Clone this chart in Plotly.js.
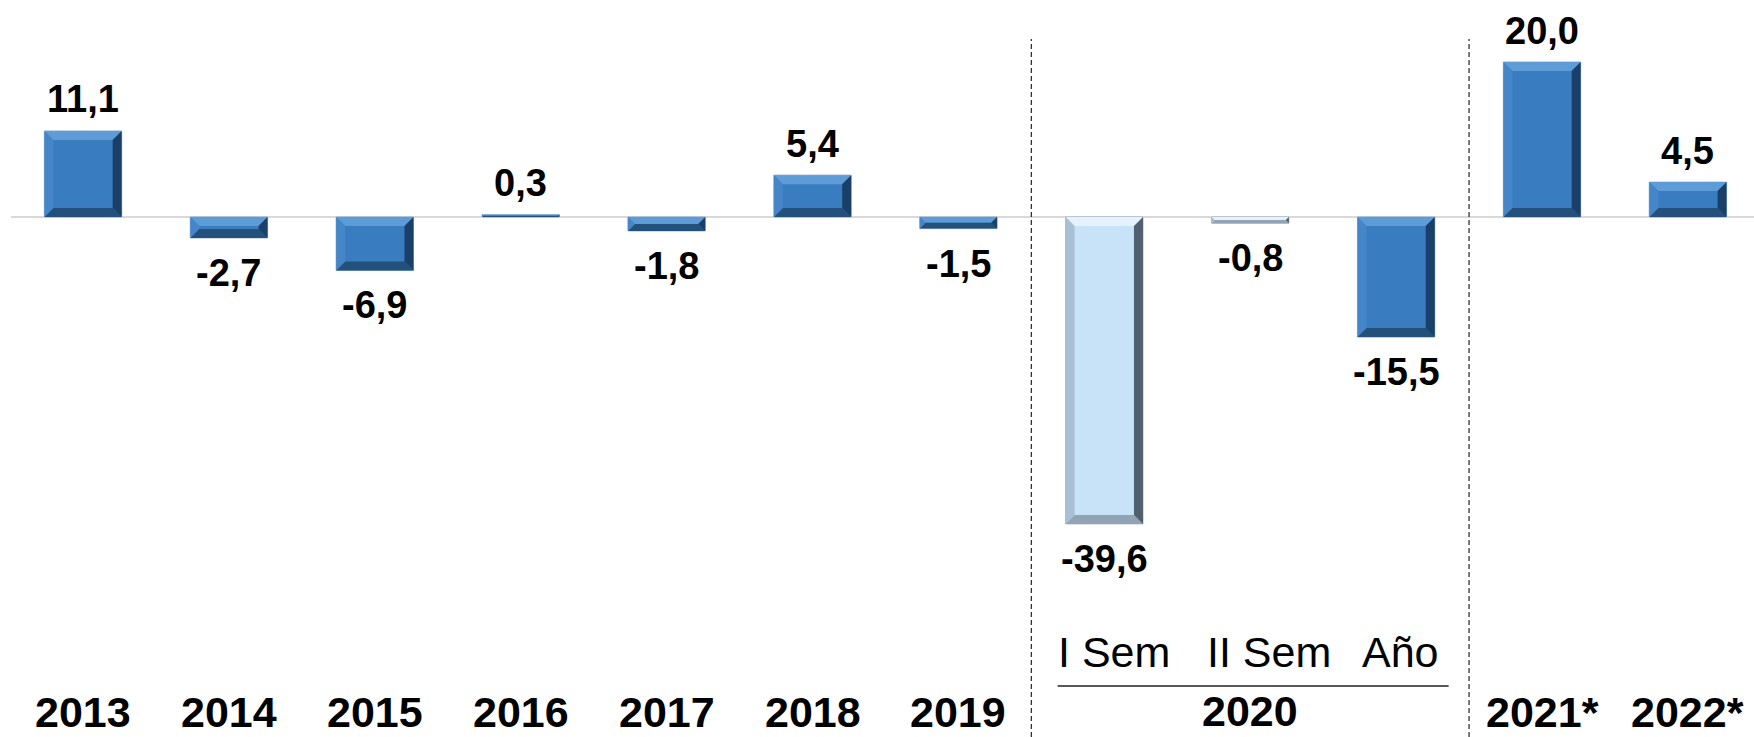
<!DOCTYPE html>
<html>
<head>
<meta charset="utf-8">
<script src="https://cdn.plot.ly/plotly-3.0.1.min.js"></script>
<style>html,body{margin:0;padding:0;background:#fff;}#chart{width:1754px;height:737px;}</style>
</head>
<body>
<div id="chart"></div>
<script>
// ---- data ----
var categories = ['2013','2014','2015','2016','2017','2018','2019','I Sem','II Sem','Año','2021*','2022*'];
var annualValues = [11.1, -2.7, -6.9, 0.3, -1.8, 5.4, -1.5, null, null, -15.5, 20.0, 4.5];
var semesterValues = [null, null, null, null, null, null, null, -39.6, -0.8, null, null, null];
var boldLabels = ['2013','2014','2015','2016','2017','2018','2019', '', '', '', '2021*','2022*'];
var subLabels = ['', '', '', '', '', '', '', 'I Sem', 'II Sem', 'Año', '', ''];
var groupLabel = '2020';

var xs = categories.map(function(c, i){ return i; });
var FONT = 'Liberation Sans, Arial, Helvetica, sans-serif';
var BW = 0.53;
var subShift = {7: 10, 8: 19, 9: 4};

function fmt(v){ return v.toFixed(1).replace('.', ','); }

var traces = [
  {type:'bar', x: xs, y: annualValues, width: BW,
   marker:{color:'#3a7cc0', line:{color:'#8fb1d3', width:1}}, hoverinfo:'skip'},
  {type:'bar', x: xs, y: semesterValues, width: BW,
   marker:{color:'#c8e2f8', line:{color:'#a3b3c3', width:1}}, hoverinfo:'skip'}
];

var pxPerX = 145.9, pxPerY = 7.75;
var shapes = [];
// zero line
shapes.push({type:'line', xref:'paper', yref:'y', x0: 11/1754, x1: 1, y0: 0, y1: 0,
  line:{color:'#d9d9d9', width:2}, layer:'below'});

function bevel(i, v, pal){
  var x0 = i - BW/2, x1 = i + BW/2;
  var top = Math.max(0, v), bot = Math.min(0, v);
  var h = top - bot;
  var by = Math.min(9/pxPerY, h/2);
  var bx = Math.min(9/pxPerX, by*pxPerY/pxPerX);
  function P(pts){ return 'M' + pts.map(function(p){return p[0]+','+p[1];}).join(' L') + ' Z'; }
  var polys = [
    [[[x0,top],[x1,top],[x1-bx,top-by],[x0+bx,top-by]], pal.top],
    [[[x0,bot],[x1,bot],[x1-bx,bot+by],[x0+bx,bot+by]], pal.bottom],
    [[[x0,top],[x0+bx,top-by],[x0+bx,bot+by],[x0,bot]], pal.left],
    [[[x1,top],[x1-bx,top-by],[x1-bx,bot+by],[x1,bot]], pal.right]
  ];
  polys.forEach(function(pp){
    shapes.push({type:'path', xref:'x', yref:'y', path: P(pp[0]), fillcolor: pp[1],
      line:{width:0}, layer:'above'});
  });
}
var darkPal = {top:'#5e9cd8', bottom:'#24507c', left:'#4586c9', right:'#1a3f68'};
var lightPal = {top:'#e4f2ff', bottom:'#91a3b5', left:'#a9bfd3', right:'#50606f'};

var annotations = [];
xs.forEach(function(i){
  var v = annualValues[i] != null ? annualValues[i] : semesterValues[i];
  bevel(i, v, annualValues[i] != null ? darkPal : lightPal);
  annotations.push({x: i, y: v, xref:'x', yref:'y', text:'<b>'+fmt(v)+'</b>', showarrow:false,
    yanchor:'middle', yshift: v >= 0 ? 31.5 : -35, font:{family:FONT, size:38, color:'#000'}});
  if (boldLabels[i]) {
    annotations.push({x: i, y: 1 - 712/737, xref:'x', yref:'paper', text:'<b>'+boldLabels[i]+'</b>',
      showarrow:false, yanchor:'middle', font:{family:FONT, size:43, color:'#000'}});
  }
  if (subLabels[i]) {
    annotations.push({x: i, y: 1 - 652/737, xref:'x', yref:'paper', text: subLabels[i],
      xshift: subShift[i] || 0,
      showarrow:false, yanchor:'middle', font:{family:FONT, size:43, color:'#000'}});
  }
});
annotations.push({x: 8, y: 1 - 711/737, xref:'x', yref:'paper', text:'<b>'+groupLabel+'</b>',
  showarrow:false, yanchor:'middle', font:{family:FONT, size:43, color:'#000'}});

// group separators and underline
[6.5, 9.5].forEach(function(xv){
  shapes.push({type:'line', xref:'x', yref:'paper', x0: xv, x1: xv, y0: 0, y1: 1 - 39/737,
    line:{color:'#333', width:1.3, dash:'5px,3px'}});
});
shapes.push({type:'line', xref:'x', yref:'paper', x0: 6.68, x1: 9.36, y0: 1 - 686/737, y1: 1 - 686/737,
  line:{color:'#222', width:1.5}});

var layout = {
  width: 1754, height: 737,
  margin:{l:0, r:0, t:0, b:0},
  paper_bgcolor:'#fff', plot_bgcolor:'#fff',
  showlegend:false, barmode:'overlay',
  xaxis:{range:[-0.569, 11.453], visible:false, fixedrange:true},
  yaxis:{range:[-67.1, 28.0], visible:false, zeroline:false, showgrid:false, fixedrange:true},
  shapes: shapes,
  annotations: annotations
};

Plotly.newPlot('chart', traces, layout, {staticPlot:true, displayModeBar:false});
</script>
</body>
</html>
